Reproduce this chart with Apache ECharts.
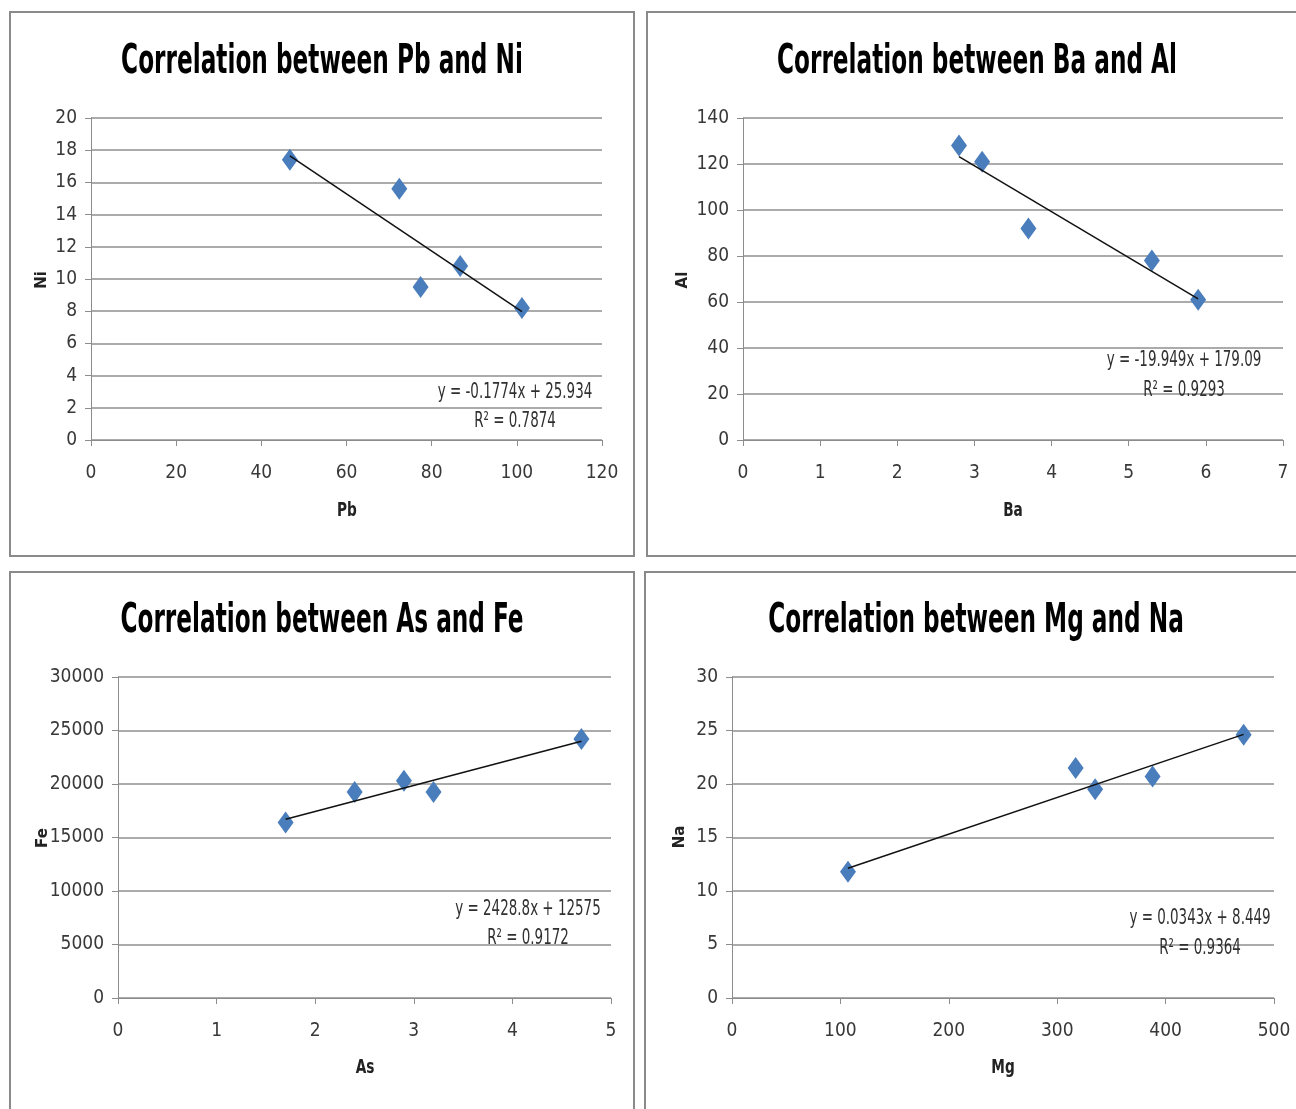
<!DOCTYPE html>
<html><head><meta charset="utf-8">
<script src="https://cdn.jsdelivr.net/npm/echarts@6/dist/echarts.min.js"></script>
<style>html,body{margin:0;padding:0;background:#fff}#c{width:1296px;height:1109px}</style>
</head><body><div id="c"></div>
<script>
// ---- data ----
const pb = [46.7, 72.4, 77.4, 86.7, 101.2];
const ni = [17.4, 15.6, 9.5, 10.8, 8.2];
const ba = [2.8, 3.1, 3.7, 5.3, 5.9];
const al = [128, 121, 92, 78, 61];
const as_ = [1.7, 2.4, 2.9, 3.2, 4.7];
const fe = [16400, 19250, 20300, 19250, 24200];
const mg = [107, 317, 335, 388, 472];
const na = [11.8, 21.5, 19.5, 20.7, 24.6];
const fits = [
  {slope: -0.1774, icpt: 25.934, eq: 'y = -0.1774x + 25.934', r2: 'R² = 0.7874'},
  {slope: -19.949, icpt: 179.09, eq: 'y = -19.949x + 179.09', r2: 'R² = 0.9293'},
  {slope: 2428.8, icpt: 12575, eq: 'y = 2428.8x + 12575', r2: 'R² = 0.9172'},
  {slope: 0.0343, icpt: 8.449, eq: 'y = 0.0343x + 8.449', r2: 'R² = 0.9364'}
];
const titles = ['Correlation between Pb and Ni','Correlation between Ba and Al','Correlation between As and Fe','Correlation between Mg and Na'];
const xNames = ['Pb','Ba','As','Mg'];
const yNames = ['Ni','Al','Fe','Na'];
const xAxes = [{min:0,max:120,interval:20},{min:0,max:7,interval:1},{min:0,max:5,interval:1},{min:0,max:500,interval:100}];
const yAxes = [{min:0,max:20,interval:2},{min:0,max:140,interval:20},{min:0,max:30000,interval:5000},{min:0,max:30,interval:5}];

// ---- layout ----
const F = '"Liberation Sans Narrow","DejaVu Sans Condensed",sans-serif';
const grids = [
  {left:91, top:118, width:511, height:322},
  {left:743, top:118, width:540, height:322},
  {left:118, top:677, width:493, height:321},
  {left:732, top:677, width:542, height:321}
];
const titlePos = [[322,63],[977,63],[322,622],[976,622]];
const eqPos = [[515,392,421],[1184,360,390],[528,909,938],[1200,918,948]];
const xNamePos = [[347,511],[1013,511],[365,1068],[1003,1068]];
const yNamePos = [[42,280],[683,280],[43,838],[680,837]];
const frames = [[10,12,624,544],[647,12,660,544],[10,572,624,550],[645,572,660,550]];
const xsAll = [pb, ba, as_, mg], ysAll = [ni, al, fe, na];
const AX = '#8c8c8c';
const LBL = '#383838';

const option = {
  animation:false,
  backgroundColor:'#fff',
  grid: grids.map(g => Object.assign({containLabel:false}, g)),
  xAxis: xAxes.map((a,i) => ({
    type:'value', gridIndex:i, min:a.min, max:a.max, interval:a.interval,
    axisLine:{show:true, onZero:false, lineStyle:{color:AX, width:1}},
    axisTick:{show:true, length:6, lineStyle:{color:AX}},
    axisLabel:{color:LBL, fontFamily:F, fontSize:19, margin:24},
    splitLine:{show:false}
  })),
  yAxis: yAxes.map((a,i) => ({
    type:'value', gridIndex:i, min:a.min, max:a.max, interval:a.interval,
    axisLine:{show:true, lineStyle:{color:AX, width:1}},
    axisTick:{show:true, length:6, lineStyle:{color:AX}},
    axisLabel:{color:LBL, fontFamily:F, fontSize:19, margin:14, formatter: v => String(v)},
    splitLine:{show:true, lineStyle:{color:'#8f8f8f', width:1.5}}
  })),
  series: [],
  graphic: []
};

xsAll.forEach((xs,i) => {
  option.series.push({
    type:'scatter', xAxisIndex:i, yAxisIndex:i,
    symbol:'diamond', symbolSize:[16,22],
    itemStyle:{color:'#4a7dbb', opacity:1},
    data: xs.map((x,k) => [x, ysAll[i][k]]),
    z:3
  });
  const x0 = Math.min(...xs), x1 = Math.max(...xs);
  option.series.push({
    type:'line', xAxisIndex:i, yAxisIndex:i, symbol:'none',
    lineStyle:{color:'#111', width:1.5},
    data:[[x0, fits[i].slope*x0+fits[i].icpt],[x1, fits[i].slope*x1+fits[i].icpt]],
    z:4
  });
  const fr = frames[i];
  option.graphic.push({type:'rect', shape:{x:fr[0],y:fr[1],width:fr[2],height:fr[3]},
    style:{fill:'none', stroke:'#8a8a8a', lineWidth:2}, z:-1});
  option.graphic.push({type:'text', x:titlePos[i][0], y:titlePos[i][1], scaleX:0.645,
    style:{text:titles[i], fontFamily:F, fontWeight:'bold', fontSize:40, fill:'#000', align:'center', verticalAlign:'middle'}});
  option.graphic.push({type:'text', x:eqPos[i][0], y:eqPos[i][1], scaleX:0.68,
    style:{text:fits[i].eq, fontFamily:F, fontSize:22, fill:'#303030', align:'center', verticalAlign:'middle'}, z:10});
  option.graphic.push({type:'text', x:eqPos[i][0], y:eqPos[i][2], scaleX:0.68,
    style:{text:fits[i].r2, fontFamily:F, fontSize:22, fill:'#303030', align:'center', verticalAlign:'middle'}, z:10});
  option.graphic.push({type:'text', x:xNamePos[i][0], y:xNamePos[i][1], scaleX:0.8,
    style:{text:xNames[i], fontFamily:F, fontWeight:'bold', fontSize:19, fill:'#222', align:'center', verticalAlign:'middle'}});
  option.graphic.push({type:'text', x:yNamePos[i][0], y:yNamePos[i][1], rotation:Math.PI/2,
    style:{text:yNames[i], fontFamily:'"DejaVu Sans",sans-serif', fontWeight:'bold', fontSize:15, fill:'#222', align:'center', verticalAlign:'middle'}});
});

const chart = echarts.init(document.getElementById('c'), null, {renderer:'canvas'});
chart.setOption(option);
</script></body></html>
